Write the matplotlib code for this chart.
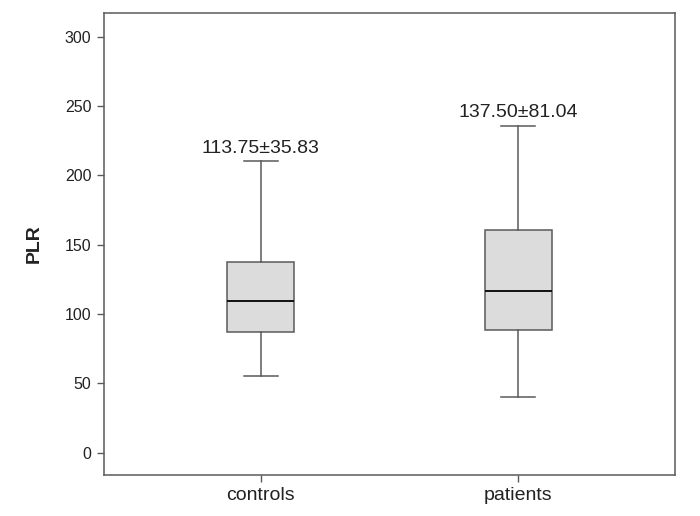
import matplotlib
matplotlib.use("Agg")
import matplotlib.pyplot as plt

plt.rcParams['font.family'] = ['Liberation Sans', 'DejaVu Sans']

categories = ["controls", "patients"]
whisker_low = [55.5, 40.4]
q1 = [86.8, 88.2]
median = [109.2, 116.6]
q3 = [137.5, 160.8]
whisker_high = [210.1, 235.8]
annotations = ["113.75±35.83", "137.50±81.04"]
yticks = [0, 50, 100, 150, 200, 250, 300]

fig = plt.figure(figsize=(7, 5.16), dpi=100)
ax = fig.add_axes([0.1486, 0.080, 0.8157, 0.8948])

stats = []
for i, c in enumerate(categories):
    stats.append(dict(label=c, whislo=whisker_low[i], q1=q1[i], med=median[i],
                      q3=q3[i], whishi=whisker_high[i], fliers=[]))

line_col = "#5a5a5a"
ax.bxp(stats, positions=[1, 2], widths=0.26, patch_artist=True, showfliers=False,
       boxprops=dict(facecolor="#dcdcdd", edgecolor=line_col, linewidth=1.1),
       whiskerprops=dict(color=line_col, linewidth=1.1),
       capprops=dict(color=line_col, linewidth=1.1),
       medianprops=dict(color="#111111", linewidth=1.4),
       capwidths=0.13)

for i, t in enumerate(annotations):
    ax.text(i + 1, whisker_high[i] + 3, t, ha="center", va="bottom",
            fontsize=14, color="#222222")

ax.set_xlim(0.39, 2.61)
ax.set_ylim(-16, 317)
ax.set_yticks(yticks)
ax.set_xticks([1, 2])
ax.set_xticklabels(categories, fontsize=14, color="#222222")
ax.tick_params(axis='y', labelsize=11.5, length=5, width=1, color=line_col,
               labelcolor="#222222", pad=4)
ax.tick_params(axis='x', length=5, width=1, color=line_col, pad=4)
ax.set_ylabel("PLR", fontsize=14, fontweight="bold", color="#222222", labelpad=16)
for s in ax.spines.values():
    s.set_color(line_col)
    s.set_linewidth(1.1)

fig.savefig("out.png", dpi=100)
